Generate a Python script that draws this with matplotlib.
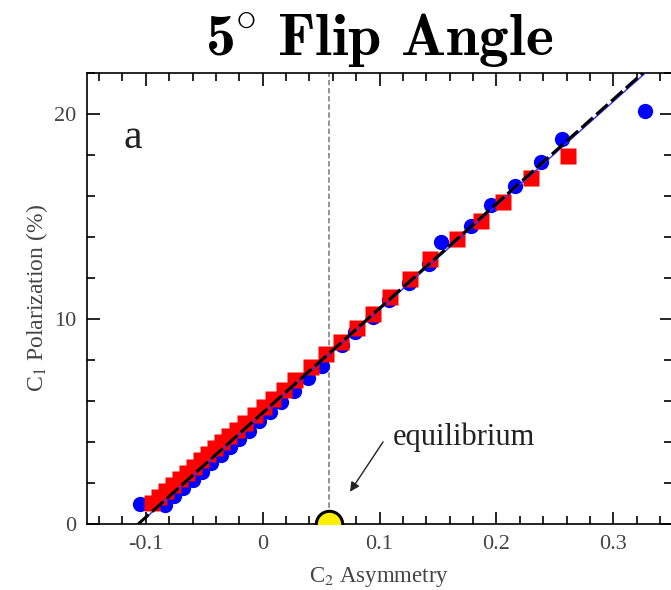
import matplotlib
matplotlib.use('Agg')
import matplotlib.pyplot as plt
from matplotlib.ticker import MultipleLocator

plt.rcParams.update({
    'font.family':      ['Liberation Serif', 'DejaVu Serif'],
    'mathtext.fontset': 'stix',
    'mathtext.rm':      'cmr10',
    'mathtext.bf':      'cmb10',
    'axes.linewidth':   1.2,
    'xtick.direction':  'in',
    'ytick.direction':  'in',
    'xtick.top':        True,
    'ytick.right':      True,
})

# C2 asymmetry / C1 polarization (%) pairs
blue_x = [-0.1046, -0.084, -0.076, -0.068, -0.060, -0.052, -0.044, -0.036,
          -0.028, -0.020, -0.012, -0.003, 0.006, 0.016, 0.027, 0.039, 0.051,
          0.068, 0.079, 0.094, 0.108, 0.125, 0.1425, 0.153, 0.178, 0.195,
          0.216, 0.238, 0.256, 0.327]
blue_y = [0.97, 0.95, 1.35, 1.75, 2.15, 2.55, 2.95, 3.35,
          3.75, 4.15, 4.55, 5.0, 5.45, 5.95, 6.5, 7.1, 7.7,
          8.71, 9.36, 10.09, 10.90, 11.74, 12.69, 13.74, 14.50, 15.52,
          16.45, 17.63, 18.77, 20.11]

red_x = [-0.095, -0.089, -0.083, -0.077, -0.071, -0.065, -0.059, -0.053,
         -0.047, -0.041, -0.035, -0.029, -0.022, -0.015, -0.007, 0.001,
         0.009, 0.018, 0.028, 0.041, 0.054, 0.067, 0.081, 0.094, 0.109,
         0.126, 0.143, 0.166, 0.187, 0.206, 0.230, 0.261]
red_y = [1.0, 1.3, 1.6, 1.9, 2.2, 2.5, 2.8, 3.1,
         3.4, 3.7, 4.0, 4.3, 4.6, 4.9, 5.3, 5.7,
         6.1, 6.55, 7.0, 7.65, 8.3, 8.85, 9.55, 10.25, 11.05,
         11.95, 12.9, 13.9, 14.75, 15.7, 16.85, 17.95]

# linear fits, polarization = slope * (asymmetry - x0)
fit_x = [-0.12, 0.36]
blue_fit = [50.7 * (x + 0.106) for x in fit_x]
red_fit = [50.9 * (x + 0.1065) for x in fit_x]

EQ_X = 0.057   # equilibrium asymmetry

fig = plt.figure(figsize=(6.71, 5.90), dpi=100)
ax = fig.add_axes([87.4 / 671, 66 / 590, 584.3 / 671, 451.5 / 590])

ax.axvline(EQ_X, color='0.55', lw=1.3, ls=(0, (3, 1.5)), zorder=1)
ax.plot(blue_x, blue_y, 'o', color='#0000ff', ms=11, mec='none', zorder=2)
ax.plot(red_x, red_y, 's', color='#ff0000', ms=12, mec='none', zorder=3)
ax.plot(fit_x, blue_fit, '-', color='#3030ff', lw=1.0, zorder=4)
ax.plot(fit_x, red_fit, color='black', lw=2.2, ls=(0, (5, 1.5)), zorder=5)
ax.plot([EQ_X], [0], 'o', color='#ffee00', ms=19, mec='black', mew=2.2,
        zorder=6)

ax.text(0.111, 4.25, 'equilibrium', fontsize=22, color='#222222',
        va='center', ha='left')
ax.annotate('', xy=(0.0747, 1.57), xytext=(0.103, 4.0),
            arrowprops=dict(arrowstyle='-|>', color='#222222', lw=1.0,
                            mutation_scale=14, shrinkA=0, shrinkB=0))
ax.text(-0.119, 18.8, 'a', fontsize=30, color='#222222', va='center')

ax.set_xlim(-0.15, 0.35)
ax.set_ylim(0, 22)
ax.xaxis.set_major_locator(MultipleLocator(0.1))
ax.xaxis.set_minor_locator(MultipleLocator(0.02))
ax.yaxis.set_major_locator(MultipleLocator(10))
ax.yaxis.set_minor_locator(MultipleLocator(2))
ax.set_xticks([-0.1, 0, 0.1, 0.2, 0.3])
ax.set_xticklabels(['-0.1', '0', '0.1', '0.2', '0.3'])
ax.set_yticks([0, 10, 20])
ax.set_yticklabels(['0', '10', '20'])
ax.tick_params(which='major', length=9, width=1.2, labelsize=16,
               labelcolor='#444444', pad=8)
ax.tick_params(which='minor', length=5.5, width=1.2)

ax.set_xlabel(r'C$_2$ Asymmetry', fontsize=16.5, color='#444444',
              labelpad=8)
ax.set_ylabel(r'C$_1$ Polarization (%)', fontsize=17, color='#444444',
              labelpad=3)
ax.set_title(r'$\mathbf{5}^{\circ}\ \mathbf{Flip\ Angle}$',
             math_fontfamily='custom', fontsize=43, pad=12)

fig.savefig('out.png', dpi=100)
